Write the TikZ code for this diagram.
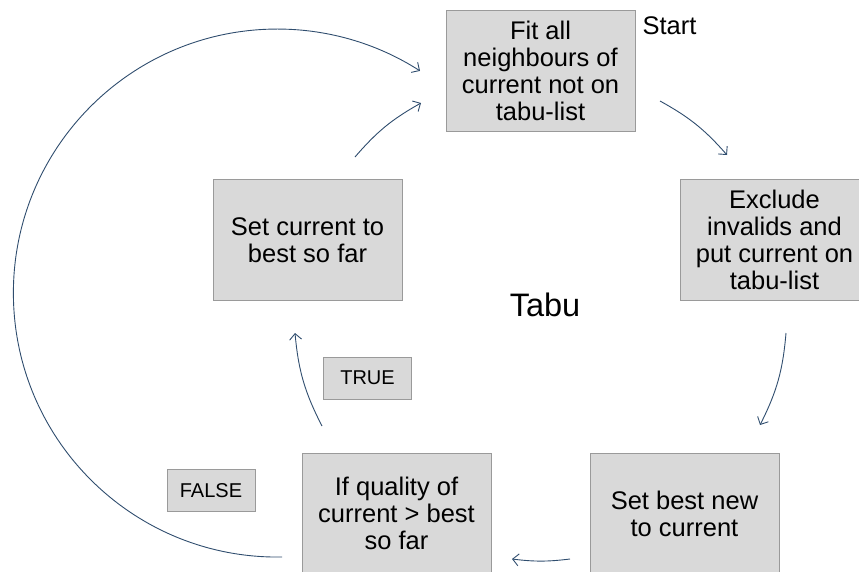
\documentclass[tikz,border=0pt]{standalone}
\usepackage{fontspec}
\setmainfont{Liberation Sans}
\usetikzlibrary{arrows.meta}
\definecolor{boxfill}{HTML}{D9D9D9}
\definecolor{boxline}{HTML}{9A9A9A}
\definecolor{flowc}{HTML}{2F4D6E}
\begin{document}
\begin{tikzpicture}[x=1pt,y=-1pt,
  stepbox/.style={draw=boxline, fill=boxfill, line width=0.8pt,
    minimum width=189pt, minimum height=121pt, align=center, inner sep=0pt,
    font=\fontsize{25.5}{27}\selectfont},
  flagbox/.style={draw=boxline, fill=boxfill, line width=0.8pt,
    minimum width=88pt, minimum height=42pt, inner sep=0pt,
    font=\fontsize{20}{22}\selectfont},
  flow/.style={draw=flowc, line width=0.9pt,
    -{Straight Barb[length=6pt,width=12pt]}}]
\useasboundingbox (0,0) rectangle (859,571);
\clip (0,0) rectangle (859,571);

% the five steps of the search loop
\node[stepbox] (fit)  at (540.5,70.5) {Fit all\\neighbours of\\current not on\\tabu-list};
\node[stepbox] (excl) at (774.5,240)  {Exclude\\invalids and\\put current on\\tabu-list};
\node[stepbox] (best) at (684.5,513.5) {Set best new\\to current};
\node[stepbox] (qual) at (396.5,513.5) {If quality of\\current > best\\so far};
\node[stepbox] (setc) at (307.5,240)  {Set current to\\best so far};

% branch labels
\node[flagbox] (true)  at (367.5,378) {TRUE};
\node[flagbox] (false) at (211,490.5) {FALSE};

% free labels
\node[font=\fontsize{25.5}{27}\selectfont] (start) at (669.5,25.5) {Start};
\node[font=\fontsize{32.5}{34}\selectfont] (tabu) at (545,305) {Tabu};

% arrow end points around the loop
\coordinate (a1s) at (660,101);  \coordinate (a1e) at (727,155);
\coordinate (a2s) at (786,333);  \coordinate (a2e) at (760,425);
\coordinate (a3s) at (570,559);  \coordinate (a3e) at (512,559);
\coordinate (a4s) at (322,426);  \coordinate (a4e) at (295,333);
\coordinate (a5s) at (355,157);  \coordinate (a5e) at (421,103);
\coordinate (fs)  at (282,557);

\draw[flow] (a1s) to[bend left=10] (a1e);
\draw[flow] (a2s) to[bend left=11] (a2e);
\draw[flow] (a3s) to[bend left=7]  (a3e);
\draw[flow] (a4s) to[bend left=11] (a4e);
\draw[flow] (a5s) to[bend left=10] (a5e);
% FALSE: back round to the first step
\draw[flow] (fs) arc[start angle=89, end angle=302.7, radius=264];
\end{tikzpicture}
\end{document}
